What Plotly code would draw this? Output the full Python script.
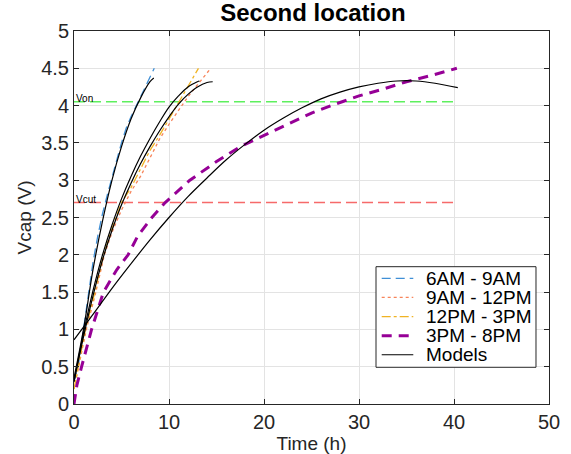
import plotly.graph_objects as go

# ---- data ----
t_6_9 = [0, 0.5, 1, 1.5, 2, 2.5, 3, 3.5, 4, 4.5, 5, 5.5, 6, 6.5, 7, 7.5, 8, 8.45]
v_6_9 = [0.3, 0.55, 1.0, 1.45, 1.9, 2.25, 2.55, 2.8, 3.02, 3.27, 3.5, 3.7, 3.85, 3.98, 4.12, 4.25, 4.38, 4.5]

t_9_12 = [0, 0.5, 1.3, 2.3, 3.2, 4, 5, 6, 7, 8, 9, 10, 11, 12, 13, 14, 14.4]
v_9_12 = [0.2, 0.5, 1.0, 1.5, 2.0, 2.3, 2.6, 2.85, 3.05, 3.3, 3.55, 3.75, 3.93, 4.12, 4.28, 4.44, 4.5]

t_12_3 = [0, 0.5, 1.2, 2.2, 3.1, 4, 5, 6, 7, 8, 9, 10, 11, 12, 12.5, 13.1]
v_12_3 = [0.2, 0.55, 1.0, 1.5, 2.0, 2.35, 2.7, 2.9, 3.15, 3.4, 3.6, 3.82, 4.05, 4.25, 4.38, 4.5]

t_3_8 = [0, 0.3, 0.8, 1.85, 3.1, 4.5, 5.7, 6.7, 8.2, 9.6, 12.2, 15, 17.5, 20, 22.5, 25, 27.5, 30, 32.5, 35, 37.5, 40.3]
v_3_8 = [0, 0.25, 0.5, 1.0, 1.5, 1.8, 2.0, 2.25, 2.5, 2.7, 3.0, 3.25, 3.45, 3.6, 3.75, 3.9, 4.02, 4.13, 4.22, 4.32, 4.4, 4.5]

# models
tm1 = [0, 1, 2, 3, 4, 5, 6, 7, 8, 8.4]
vm1 = [0.35, 1.0, 1.8, 2.45, 3.0, 3.45, 3.82, 4.1, 4.32, 4.37]
tm2 = [0, 1, 2, 3, 4, 5, 6, 7, 8, 9, 10, 11, 12, 13, 13.2]
vm2 = [0.3, 0.95, 1.52, 2.0, 2.4, 2.75, 3.05, 3.32, 3.56, 3.78, 3.98, 4.13, 4.25, 4.32, 4.33]
tm3 = [0, 1, 2, 3, 4, 5, 6, 7, 8, 9, 10, 11, 12, 13, 14, 14.6]
vm3 = [0.3, 0.9, 1.45, 1.93, 2.33, 2.67, 2.96, 3.22, 3.45, 3.66, 3.85, 4.02, 4.15, 4.25, 4.31, 4.32]
tm4 = [0, 2, 4, 6, 8, 10, 12, 14, 16, 18, 20, 22, 24, 26, 28, 30, 32, 34, 36, 38, 40.4]
vm4 = [0.86, 1.2, 1.55, 1.88, 2.2, 2.5, 2.78, 3.03, 3.27, 3.48, 3.67, 3.83, 3.97, 4.09, 4.18, 4.25, 4.3, 4.33, 4.33, 4.3, 4.24]

v_on = 4.05
v_cut = 2.7
thr_t = [0, 40]

x_ticks = [0, 10, 20, 30, 40, 50]
y_ticks = [0, 0.5, 1, 1.5, 2, 2.5, 3, 3.5, 4, 4.5, 5]

legend_labels = ["6AM - 9AM", "9AM - 12PM", "12PM - 3PM", "3PM - 8PM", "Models"]

# styles
c_on, c_cut = "#5ef05e", "#f66a6a"
styles = [
    dict(color="#3f8fd6", width=1.3, dash="9px,5px"),
    dict(color="#f7845a", width=1.3, dash="dot"),
    dict(color="#f0b323", width=1.3, dash="dashdot"),
    dict(color="#960096", width=3, dash="10px,7px"),
    dict(color="black", width=1.2),
]

fig = go.Figure()

fig.add_trace(go.Scatter(x=thr_t, y=[v_on, v_on], mode="lines", showlegend=False,
                         line=dict(color=c_on, width=1.5, dash="11px,5px")))
fig.add_trace(go.Scatter(x=thr_t, y=[v_cut, v_cut], mode="lines", showlegend=False,
                         line=dict(color=c_cut, width=1.5, dash="11px,5px")))

for (tt, vv), st in zip([(t_6_9, v_6_9), (t_9_12, v_9_12), (t_12_3, v_12_3), (t_3_8, v_3_8)], styles[:4]):
    fig.add_trace(go.Scatter(x=tt, y=vv, mode="lines", showlegend=False, line=st))

for tm, vm in [(tm1, vm1), (tm2, vm2), (tm3, vm3), (tm4, vm4)]:
    fig.add_trace(go.Scatter(x=tm, y=vm, mode="lines", showlegend=False,
                             line=dict(styles[4], shape="spline")))

fig.add_annotation(x=0, y=v_on, text="Von", showarrow=False, xanchor="left", yanchor="bottom",
                   font=dict(size=10, color="black"), yshift=-4)
fig.add_annotation(x=0, y=v_cut, text="Vcut", showarrow=False, xanchor="left", yanchor="bottom",
                   font=dict(size=10, color="black"), yshift=-4)

# legend box (paper coordinates)
lx0, lx1, ly0, ly1 = 0.6358, 0.9726, 0.0984, 0.3681
fig.add_shape(type="rect", xref="paper", yref="paper", x0=lx0, x1=lx1, y0=ly0, y1=ly1,
              line=dict(color="#262626", width=1), fillcolor="white", layer="above")
row_y = [0.337, 0.286, 0.234, 0.183, 0.132]
for lab, st, yy in zip(legend_labels, styles, row_y):
    fig.add_shape(type="line", xref="paper", yref="paper", x0=0.6478, x1=0.7143, y0=yy, y1=yy,
                  line=st, layer="above")
    fig.add_annotation(xref="paper", yref="paper", x=0.7368, y=yy, text=lab, showarrow=False,
                       xanchor="left", yanchor="middle", font=dict(size=19, color="black"))

axis_common = dict(showline=True, mirror="ticks", linecolor="#262626", linewidth=1,
                   ticks="inside", ticklen=5, tickcolor="#262626", automargin=False,
                   showgrid=True, gridcolor="#e3e3e3", gridwidth=1, zeroline=False,
                   tickfont=dict(size=20, color="#262626"))

fig.update_layout(
    width=571, height=454,
    margin=dict(l=74, r=22, t=31, b=50),
    paper_bgcolor="white", plot_bgcolor="white",
    font=dict(family="Liberation Sans, Arial, sans-serif", color="#262626"),
    title=dict(text="<b>Second location</b>", x=0.548, xanchor="center", y=0.99, yanchor="top",
               font=dict(size=24, color="black")),
    xaxis=dict(range=[0, 50], tickvals=x_ticks,
               title=dict(text="Time (h)", font=dict(size=19), standoff=6), **axis_common),
    yaxis=dict(range=[0, 5], tickvals=y_ticks, ticktext=[f"{v:g}" for v in y_ticks],
               title=dict(text="Vcap (V)", font=dict(size=19), standoff=4), **axis_common),
    showlegend=False,
)

fig.write_html("out.html", config={"displayModeBar": False},
               post_script="document.body.style.margin='0px';")
